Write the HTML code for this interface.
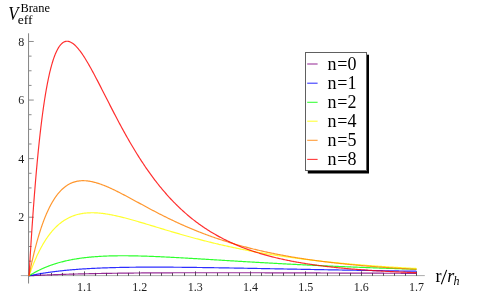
<!DOCTYPE html>
<html><head><meta charset="utf-8"><style>
html,body{margin:0;padding:0;background:#fff;}
body{width:482px;height:301px;overflow:hidden;}
svg{display:block;font-family:"Liberation Serif",serif;will-change:transform;}
</style></head><body>
<svg width="482" height="301" viewBox="0 0 482 301">
<rect width="482" height="301" fill="#fff"/>
<g stroke-width="1" fill="none">
<line x1="20.8" x2="424.8" y1="275.60" y2="275.60" stroke="#adadad"/>
<line x1="28.55" x2="28.55" y1="33.3" y2="283.5" stroke="#858585"/>
</g>
<g stroke="#555" stroke-width="1" fill="none">
<line x1="40.50" x2="40.50" y1="275.90" y2="272.90"/>
<line x1="51.50" x2="51.50" y1="275.90" y2="272.90"/>
<line x1="62.50" x2="62.50" y1="275.90" y2="272.90"/>
<line x1="73.50" x2="73.50" y1="275.90" y2="272.90"/>
<line x1="84.50" x2="84.50" y1="275.90" y2="271.40"/>
<line x1="95.50" x2="95.50" y1="275.90" y2="272.90"/>
<line x1="106.50" x2="106.50" y1="275.90" y2="272.90"/>
<line x1="117.50" x2="117.50" y1="275.90" y2="272.90"/>
<line x1="128.50" x2="128.50" y1="275.90" y2="272.90"/>
<line x1="139.50" x2="139.50" y1="275.90" y2="271.40"/>
<line x1="150.50" x2="150.50" y1="275.90" y2="272.90"/>
<line x1="161.50" x2="161.50" y1="275.90" y2="272.90"/>
<line x1="172.50" x2="172.50" y1="275.90" y2="272.90"/>
<line x1="184.50" x2="184.50" y1="275.90" y2="272.90"/>
<line x1="195.50" x2="195.50" y1="275.90" y2="271.40"/>
<line x1="206.50" x2="206.50" y1="275.90" y2="272.90"/>
<line x1="217.50" x2="217.50" y1="275.90" y2="272.90"/>
<line x1="228.50" x2="228.50" y1="275.90" y2="272.90"/>
<line x1="239.50" x2="239.50" y1="275.90" y2="272.90"/>
<line x1="250.50" x2="250.50" y1="275.90" y2="271.40"/>
<line x1="261.50" x2="261.50" y1="275.90" y2="272.90"/>
<line x1="272.50" x2="272.50" y1="275.90" y2="272.90"/>
<line x1="283.50" x2="283.50" y1="275.90" y2="272.90"/>
<line x1="294.50" x2="294.50" y1="275.90" y2="272.90"/>
<line x1="305.50" x2="305.50" y1="275.90" y2="271.40"/>
<line x1="316.50" x2="316.50" y1="275.90" y2="272.90"/>
<line x1="327.50" x2="327.50" y1="275.90" y2="272.90"/>
<line x1="339.50" x2="339.50" y1="275.90" y2="272.90"/>
<line x1="350.50" x2="350.50" y1="275.90" y2="272.90"/>
<line x1="361.50" x2="361.50" y1="275.90" y2="271.40"/>
<line x1="372.50" x2="372.50" y1="275.90" y2="272.90"/>
<line x1="383.50" x2="383.50" y1="275.90" y2="272.90"/>
<line x1="394.50" x2="394.50" y1="275.90" y2="272.90"/>
<line x1="405.50" x2="405.50" y1="275.90" y2="272.90"/>
<line x1="416.50" x2="416.50" y1="275.90" y2="271.40"/>
</g>
<g stroke="#8c8c8c" stroke-width="1" fill="none">
<line x1="28.55" x2="31.55" y1="261.16" y2="261.16"/>
<line x1="28.55" x2="31.55" y1="246.51" y2="246.51"/>
<line x1="28.55" x2="31.55" y1="231.87" y2="231.87"/>
<line x1="28.55" x2="33.75" y1="217.22" y2="217.22"/>
<line x1="28.55" x2="31.55" y1="202.58" y2="202.58"/>
<line x1="28.55" x2="31.55" y1="187.93" y2="187.93"/>
<line x1="28.55" x2="31.55" y1="173.29" y2="173.29"/>
<line x1="28.55" x2="33.75" y1="158.64" y2="158.64"/>
<line x1="28.55" x2="31.55" y1="144.00" y2="144.00"/>
<line x1="28.55" x2="31.55" y1="129.35" y2="129.35"/>
<line x1="28.55" x2="31.55" y1="114.71" y2="114.71"/>
<line x1="28.55" x2="33.75" y1="100.06" y2="100.06"/>
<line x1="28.55" x2="31.55" y1="85.42" y2="85.42"/>
<line x1="28.55" x2="31.55" y1="70.77" y2="70.77"/>
<line x1="28.55" x2="31.55" y1="56.13" y2="56.13"/>
<line x1="28.55" x2="33.75" y1="41.48" y2="41.48"/>
</g>
<g fill="none" stroke-width="1.18" stroke-opacity="0.82" stroke-linejoin="round">
<path d="M29.05,275.80 L29.28,275.79 L29.52,275.78 L29.75,275.76 L29.98,275.75 L30.21,275.74 L30.45,275.73 L30.68,275.71 L30.91,275.70 L31.14,275.69 L31.38,275.68 L31.61,275.67 L31.84,275.66 L32.07,275.64 L32.31,275.63 L32.54,275.62 L32.77,275.61 L33.00,275.60 L33.24,275.59 L33.47,275.57 L33.70,275.56 L33.93,275.55 L34.17,275.54 L34.40,275.53 L34.63,275.52 L34.87,275.51 L35.10,275.49 L35.33,275.48 L35.56,275.47 L35.80,275.46 L36.03,275.45 L36.26,275.44 L36.49,275.43 L36.73,275.42 L36.96,275.41 L37.19,275.39 L37.42,275.38 L37.66,275.37 L37.89,275.36 L38.12,275.35 L38.35,275.34 L38.59,275.33 L38.82,275.32 L39.05,275.31 L39.28,275.30 L39.52,275.29 L39.75,275.28 L39.98,275.27 L40.22,275.26 L40.45,275.24 L40.68,275.23 L40.91,275.22 L41.15,275.21 L41.38,275.20 L41.61,275.19 L41.84,275.18 L42.08,275.17 L42.31,275.16 L42.54,275.15 L42.77,275.14 L43.01,275.13 L43.24,275.12 L43.47,275.11 L43.70,275.10 L43.94,275.09 L44.17,275.08 L44.40,275.07 L44.63,275.06 L44.87,275.05 L45.10,275.04 L45.33,275.03 L45.56,275.02 L45.80,275.01 L46.03,275.00 L46.26,275.00 L46.50,274.99 L46.73,274.98 L46.96,274.97 L47.19,274.96 L47.43,274.95 L47.66,274.94 L47.89,274.93 L48.12,274.92 L48.36,274.91 L48.59,274.90 L48.82,274.89 L49.05,274.88 L49.29,274.87 L49.52,274.86 L49.75,274.86 L49.98,274.85 L50.22,274.84 L50.45,274.83 L50.68,274.82 L50.91,274.81 L51.15,274.80 L51.38,274.79 L51.61,274.78 L51.85,274.78 L52.08,274.77 L52.31,274.76 L52.54,274.75 L52.78,274.74 L53.01,274.73 L53.24,274.72 L53.47,274.71 L53.71,274.71 L53.94,274.70 L54.17,274.69 L54.40,274.68 L54.64,274.67 L54.87,274.66 L55.10,274.65 L55.33,274.65 L55.57,274.64 L55.80,274.63 L56.03,274.62 L56.26,274.61 L56.50,274.60 L56.73,274.60 L57.63,274.57 L58.53,274.53 L59.44,274.50 L60.34,274.47 L61.24,274.44 L62.14,274.41 L63.04,274.38 L63.94,274.36 L64.85,274.33 L65.75,274.30 L66.65,274.27 L67.55,274.25 L68.45,274.22 L69.36,274.19 L70.26,274.17 L71.16,274.14 L72.06,274.12 L72.96,274.09 L73.87,274.07 L74.77,274.04 L75.67,274.02 L76.57,273.99 L77.47,273.97 L78.37,273.95 L79.28,273.93 L80.18,273.90 L81.08,273.88 L81.98,273.86 L82.88,273.84 L83.79,273.82 L84.69,273.80 L85.59,273.78 L86.49,273.76 L87.39,273.74 L88.29,273.72 L89.20,273.70 L90.10,273.68 L91.00,273.66 L91.90,273.64 L92.80,273.62 L93.71,273.60 L94.61,273.59 L95.51,273.57 L96.41,273.55 L97.31,273.53 L98.22,273.52 L99.12,273.50 L100.02,273.49 L100.92,273.47 L101.82,273.45 L102.72,273.44 L103.63,273.42 L104.53,273.41 L105.43,273.39 L106.33,273.38 L107.23,273.36 L108.14,273.35 L109.04,273.34 L109.94,273.32 L110.84,273.31 L111.74,273.30 L112.64,273.28 L113.55,273.27 L114.45,273.26 L115.35,273.25 L116.25,273.23 L117.15,273.22 L118.06,273.21 L118.96,273.20 L119.86,273.19 L120.76,273.18 L121.66,273.16 L122.57,273.15 L123.47,273.14 L124.37,273.13 L125.27,273.12 L126.17,273.11 L127.07,273.10 L127.98,273.09 L128.88,273.08 L129.78,273.07 L130.68,273.06 L131.58,273.05 L132.49,273.05 L133.39,273.04 L134.29,273.03 L135.19,273.02 L136.09,273.01 L137.00,273.00 L137.90,273.00 L138.80,272.99 L139.70,272.98 L140.60,272.97 L141.50,272.96 L142.41,272.96 L143.31,272.95 L144.21,272.94 L145.11,272.94 L146.01,272.93 L146.92,272.92 L147.82,272.92 L148.72,272.91 L149.62,272.90 L150.52,272.90 L151.42,272.89 L152.33,272.89 L153.23,272.88 L154.13,272.87 L155.03,272.87 L155.93,272.86 L156.84,272.86 L157.74,272.85 L158.64,272.85 L159.54,272.84 L160.44,272.84 L161.35,272.83 L162.25,272.83 L163.15,272.82 L164.05,272.82 L164.95,272.82 L165.85,272.81 L166.76,272.81 L167.66,272.80 L168.56,272.80 L169.46,272.80 L170.36,272.79 L171.27,272.79 L172.17,272.79 L173.07,272.78 L173.97,272.78 L174.87,272.78 L175.77,272.77 L176.68,272.77 L177.58,272.77 L178.48,272.76 L179.38,272.76 L180.28,272.76 L181.19,272.76 L182.09,272.75 L182.99,272.75 L183.89,272.75 L184.79,272.75 L185.70,272.75 L186.60,272.74 L187.50,272.74 L188.40,272.74 L189.30,272.74 L190.20,272.74 L191.11,272.73 L192.01,272.73 L192.91,272.73 L193.81,272.73 L194.71,272.73 L195.62,272.73 L196.52,272.73 L197.42,272.72 L198.32,272.72 L199.22,272.72 L200.12,272.72 L201.03,272.72 L201.93,272.72 L202.83,272.72 L203.73,272.72 L204.63,272.72 L205.54,272.72 L206.44,272.72 L207.34,272.72 L208.24,272.72 L209.14,272.72 L210.05,272.72 L210.95,272.72 L211.85,272.72 L212.75,272.72 L213.65,272.72 L214.55,272.72 L215.46,272.72 L216.36,272.72 L217.26,272.72 L218.16,272.72 L219.06,272.72 L219.97,272.72 L220.87,272.72 L221.77,272.72 L222.67,272.72 L223.57,272.72 L224.47,272.72 L225.38,272.72 L226.28,272.72 L227.18,272.72 L228.08,272.72 L228.98,272.72 L229.89,272.72 L230.79,272.72 L231.69,272.73 L232.59,272.73 L233.49,272.73 L234.40,272.73 L235.30,272.73 L236.20,272.73 L237.10,272.73 L238.00,272.73 L238.90,272.73 L239.81,272.74 L240.71,272.74 L241.61,272.74 L242.51,272.74 L243.41,272.74 L244.32,272.74 L245.22,272.74 L246.12,272.75 L247.02,272.75 L247.92,272.75 L248.83,272.75 L249.73,272.75 L250.63,272.75 L251.53,272.76 L252.43,272.76 L253.33,272.76 L254.24,272.76 L255.14,272.76 L256.04,272.77 L256.94,272.77 L257.84,272.77 L258.75,272.77 L259.65,272.77 L260.55,272.78 L261.45,272.78 L262.35,272.78 L263.25,272.78 L264.16,272.78 L265.06,272.79 L265.96,272.79 L266.86,272.79 L267.76,272.79 L268.67,272.80 L269.57,272.80 L270.47,272.80 L271.37,272.80 L272.27,272.81 L273.18,272.81 L274.08,272.81 L274.98,272.81 L275.88,272.82 L276.78,272.82 L277.68,272.82 L278.59,272.82 L279.49,272.83 L280.39,272.83 L281.29,272.83 L282.19,272.83 L283.10,272.84 L284.00,272.84 L284.90,272.84 L285.80,272.85 L286.70,272.85 L287.60,272.85 L288.51,272.85 L289.41,272.86 L290.31,272.86 L291.21,272.86 L292.11,272.87 L293.02,272.87 L293.92,272.87 L294.82,272.87 L295.72,272.88 L296.62,272.88 L297.53,272.88 L298.43,272.89 L299.33,272.89 L300.23,272.89 L301.13,272.89 L302.03,272.90 L302.94,272.90 L303.84,272.90 L304.74,272.91 L305.64,272.91 L306.54,272.91 L307.45,272.92 L308.35,272.92 L309.25,272.92 L310.15,272.93 L311.05,272.93 L311.95,272.93 L312.86,272.94 L313.76,272.94 L314.66,272.94 L315.56,272.95 L316.46,272.95 L317.37,272.95 L318.27,272.96 L319.17,272.96 L320.07,272.96 L320.97,272.97 L321.88,272.97 L322.78,272.97 L323.68,272.98 L324.58,272.98 L325.48,272.98 L326.38,272.99 L327.29,272.99 L328.19,272.99 L329.09,273.00 L329.99,273.00 L330.89,273.00 L331.80,273.01 L332.70,273.01 L333.60,273.01 L334.50,273.02 L335.40,273.02 L336.30,273.02 L337.21,273.03 L338.11,273.03 L339.01,273.03 L339.91,273.04 L340.81,273.04 L341.72,273.04 L342.62,273.05 L343.52,273.05 L344.42,273.06 L345.32,273.06 L346.23,273.06 L347.13,273.07 L348.03,273.07 L348.93,273.07 L349.83,273.08 L350.73,273.08 L351.64,273.08 L352.54,273.09 L353.44,273.09 L354.34,273.09 L355.24,273.10 L356.15,273.10 L357.05,273.11 L357.95,273.11 L358.85,273.11 L359.75,273.12 L360.66,273.12 L361.56,273.12 L362.46,273.13 L363.36,273.13 L364.26,273.13 L365.16,273.14 L366.07,273.14 L366.97,273.15 L367.87,273.15 L368.77,273.15 L369.67,273.16 L370.58,273.16 L371.48,273.16 L372.38,273.17 L373.28,273.17 L374.18,273.17 L375.08,273.18 L375.99,273.18 L376.89,273.19 L377.79,273.19 L378.69,273.19 L379.59,273.20 L380.50,273.20 L381.40,273.20 L382.30,273.21 L383.20,273.21 L384.10,273.22 L385.01,273.22 L385.91,273.22 L386.81,273.23 L387.71,273.23 L388.61,273.23 L389.51,273.24 L390.42,273.24 L391.32,273.24 L392.22,273.25 L393.12,273.25 L394.02,273.26 L394.93,273.26 L395.83,273.26 L396.73,273.27 L397.63,273.27 L398.53,273.27 L399.43,273.28 L400.34,273.28 L401.24,273.29 L402.14,273.29 L403.04,273.29 L403.94,273.30 L404.85,273.30 L405.75,273.30 L406.65,273.31 L407.55,273.31 L408.45,273.32 L409.36,273.32 L410.26,273.32 L411.16,273.33 L412.06,273.33 L412.96,273.33 L413.86,273.34 L414.77,273.34 L415.67,273.34 L416.57,273.35" stroke="#800080"/>
<path d="M29.05,275.80 L29.28,275.75 L29.52,275.70 L29.75,275.65 L29.98,275.61 L30.21,275.56 L30.45,275.51 L30.68,275.46 L30.91,275.41 L31.14,275.37 L31.38,275.32 L31.61,275.27 L31.84,275.23 L32.07,275.18 L32.31,275.13 L32.54,275.09 L32.77,275.04 L33.00,275.00 L33.24,274.95 L33.47,274.91 L33.70,274.86 L33.93,274.82 L34.17,274.77 L34.40,274.73 L34.63,274.68 L34.87,274.64 L35.10,274.60 L35.33,274.55 L35.56,274.51 L35.80,274.47 L36.03,274.42 L36.26,274.38 L36.49,274.34 L36.73,274.30 L36.96,274.25 L37.19,274.21 L37.42,274.17 L37.66,274.13 L37.89,274.09 L38.12,274.05 L38.35,274.01 L38.59,273.97 L38.82,273.92 L39.05,273.88 L39.28,273.84 L39.52,273.80 L39.75,273.76 L39.98,273.73 L40.22,273.69 L40.45,273.65 L40.68,273.61 L40.91,273.57 L41.15,273.53 L41.38,273.49 L41.61,273.45 L41.84,273.42 L42.08,273.38 L42.31,273.34 L42.54,273.30 L42.77,273.26 L43.01,273.23 L43.24,273.19 L43.47,273.15 L43.70,273.12 L43.94,273.08 L44.17,273.04 L44.40,273.01 L44.63,272.97 L44.87,272.94 L45.10,272.90 L45.33,272.87 L45.56,272.83 L45.80,272.80 L46.03,272.76 L46.26,272.73 L46.50,272.69 L46.73,272.66 L46.96,272.62 L47.19,272.59 L47.43,272.55 L47.66,272.52 L47.89,272.49 L48.12,272.45 L48.36,272.42 L48.59,272.39 L48.82,272.35 L49.05,272.32 L49.29,272.29 L49.52,272.26 L49.75,272.22 L49.98,272.19 L50.22,272.16 L50.45,272.13 L50.68,272.10 L50.91,272.06 L51.15,272.03 L51.38,272.00 L51.61,271.97 L51.85,271.94 L52.08,271.91 L52.31,271.88 L52.54,271.85 L52.78,271.82 L53.01,271.79 L53.24,271.76 L53.47,271.73 L53.71,271.70 L53.94,271.67 L54.17,271.64 L54.40,271.61 L54.64,271.58 L54.87,271.55 L55.10,271.52 L55.33,271.49 L55.57,271.47 L55.80,271.44 L56.03,271.41 L56.26,271.38 L56.50,271.35 L56.73,271.33 L57.63,271.22 L58.53,271.11 L59.44,271.01 L60.34,270.91 L61.24,270.81 L62.14,270.72 L63.04,270.62 L63.94,270.53 L64.85,270.44 L65.75,270.35 L66.65,270.26 L67.55,270.18 L68.45,270.09 L69.36,270.01 L70.26,269.93 L71.16,269.85 L72.06,269.77 L72.96,269.70 L73.87,269.62 L74.77,269.55 L75.67,269.48 L76.57,269.41 L77.47,269.34 L78.37,269.28 L79.28,269.21 L80.18,269.15 L81.08,269.08 L81.98,269.02 L82.88,268.96 L83.79,268.91 L84.69,268.85 L85.59,268.79 L86.49,268.74 L87.39,268.68 L88.29,268.63 L89.20,268.58 L90.10,268.53 L91.00,268.48 L91.90,268.44 L92.80,268.39 L93.71,268.35 L94.61,268.30 L95.51,268.26 L96.41,268.22 L97.31,268.18 L98.22,268.14 L99.12,268.10 L100.02,268.06 L100.92,268.02 L101.82,267.99 L102.72,267.95 L103.63,267.92 L104.53,267.89 L105.43,267.85 L106.33,267.82 L107.23,267.79 L108.14,267.76 L109.04,267.73 L109.94,267.71 L110.84,267.68 L111.74,267.65 L112.64,267.63 L113.55,267.60 L114.45,267.58 L115.35,267.56 L116.25,267.53 L117.15,267.51 L118.06,267.49 L118.96,267.47 L119.86,267.45 L120.76,267.43 L121.66,267.42 L122.57,267.40 L123.47,267.38 L124.37,267.37 L125.27,267.35 L126.17,267.33 L127.07,267.32 L127.98,267.31 L128.88,267.29 L129.78,267.28 L130.68,267.27 L131.58,267.26 L132.49,267.25 L133.39,267.24 L134.29,267.23 L135.19,267.22 L136.09,267.21 L137.00,267.20 L137.90,267.19 L138.80,267.19 L139.70,267.18 L140.60,267.17 L141.50,267.17 L142.41,267.16 L143.31,267.16 L144.21,267.15 L145.11,267.15 L146.01,267.15 L146.92,267.14 L147.82,267.14 L148.72,267.14 L149.62,267.14 L150.52,267.14 L151.42,267.13 L152.33,267.13 L153.23,267.13 L154.13,267.13 L155.03,267.13 L155.93,267.13 L156.84,267.14 L157.74,267.14 L158.64,267.14 L159.54,267.14 L160.44,267.14 L161.35,267.15 L162.25,267.15 L163.15,267.15 L164.05,267.16 L164.95,267.16 L165.85,267.17 L166.76,267.17 L167.66,267.17 L168.56,267.18 L169.46,267.19 L170.36,267.19 L171.27,267.20 L172.17,267.20 L173.07,267.21 L173.97,267.22 L174.87,267.22 L175.77,267.23 L176.68,267.24 L177.58,267.25 L178.48,267.25 L179.38,267.26 L180.28,267.27 L181.19,267.28 L182.09,267.29 L182.99,267.30 L183.89,267.31 L184.79,267.32 L185.70,267.33 L186.60,267.34 L187.50,267.35 L188.40,267.36 L189.30,267.37 L190.20,267.38 L191.11,267.39 L192.01,267.40 L192.91,267.41 L193.81,267.42 L194.71,267.43 L195.62,267.44 L196.52,267.46 L197.42,267.47 L198.32,267.48 L199.22,267.49 L200.12,267.50 L201.03,267.52 L201.93,267.53 L202.83,267.54 L203.73,267.55 L204.63,267.57 L205.54,267.58 L206.44,267.59 L207.34,267.61 L208.24,267.62 L209.14,267.63 L210.05,267.65 L210.95,267.66 L211.85,267.67 L212.75,267.69 L213.65,267.70 L214.55,267.72 L215.46,267.73 L216.36,267.75 L217.26,267.76 L218.16,267.77 L219.06,267.79 L219.97,267.80 L220.87,267.82 L221.77,267.83 L222.67,267.85 L223.57,267.86 L224.47,267.88 L225.38,267.89 L226.28,267.91 L227.18,267.93 L228.08,267.94 L228.98,267.96 L229.89,267.97 L230.79,267.99 L231.69,268.00 L232.59,268.02 L233.49,268.03 L234.40,268.05 L235.30,268.07 L236.20,268.08 L237.10,268.10 L238.00,268.11 L238.90,268.13 L239.81,268.15 L240.71,268.16 L241.61,268.18 L242.51,268.20 L243.41,268.21 L244.32,268.23 L245.22,268.24 L246.12,268.26 L247.02,268.28 L247.92,268.29 L248.83,268.31 L249.73,268.33 L250.63,268.34 L251.53,268.36 L252.43,268.38 L253.33,268.39 L254.24,268.41 L255.14,268.43 L256.04,268.44 L256.94,268.46 L257.84,268.48 L258.75,268.49 L259.65,268.51 L260.55,268.53 L261.45,268.55 L262.35,268.56 L263.25,268.58 L264.16,268.60 L265.06,268.61 L265.96,268.63 L266.86,268.65 L267.76,268.66 L268.67,268.68 L269.57,268.70 L270.47,268.72 L271.37,268.73 L272.27,268.75 L273.18,268.77 L274.08,268.78 L274.98,268.80 L275.88,268.82 L276.78,268.83 L277.68,268.85 L278.59,268.87 L279.49,268.89 L280.39,268.90 L281.29,268.92 L282.19,268.94 L283.10,268.95 L284.00,268.97 L284.90,268.99 L285.80,269.00 L286.70,269.02 L287.60,269.04 L288.51,269.06 L289.41,269.07 L290.31,269.09 L291.21,269.11 L292.11,269.12 L293.02,269.14 L293.92,269.16 L294.82,269.17 L295.72,269.19 L296.62,269.21 L297.53,269.23 L298.43,269.24 L299.33,269.26 L300.23,269.28 L301.13,269.29 L302.03,269.31 L302.94,269.33 L303.84,269.34 L304.74,269.36 L305.64,269.38 L306.54,269.39 L307.45,269.41 L308.35,269.43 L309.25,269.44 L310.15,269.46 L311.05,269.48 L311.95,269.49 L312.86,269.51 L313.76,269.53 L314.66,269.54 L315.56,269.56 L316.46,269.58 L317.37,269.59 L318.27,269.61 L319.17,269.63 L320.07,269.64 L320.97,269.66 L321.88,269.67 L322.78,269.69 L323.68,269.71 L324.58,269.72 L325.48,269.74 L326.38,269.76 L327.29,269.77 L328.19,269.79 L329.09,269.80 L329.99,269.82 L330.89,269.84 L331.80,269.85 L332.70,269.87 L333.60,269.88 L334.50,269.90 L335.40,269.92 L336.30,269.93 L337.21,269.95 L338.11,269.96 L339.01,269.98 L339.91,270.00 L340.81,270.01 L341.72,270.03 L342.62,270.04 L343.52,270.06 L344.42,270.07 L345.32,270.09 L346.23,270.11 L347.13,270.12 L348.03,270.14 L348.93,270.15 L349.83,270.17 L350.73,270.18 L351.64,270.20 L352.54,270.21 L353.44,270.23 L354.34,270.24 L355.24,270.26 L356.15,270.28 L357.05,270.29 L357.95,270.31 L358.85,270.32 L359.75,270.34 L360.66,270.35 L361.56,270.37 L362.46,270.38 L363.36,270.40 L364.26,270.41 L365.16,270.43 L366.07,270.44 L366.97,270.46 L367.87,270.47 L368.77,270.49 L369.67,270.50 L370.58,270.51 L371.48,270.53 L372.38,270.54 L373.28,270.56 L374.18,270.57 L375.08,270.59 L375.99,270.60 L376.89,270.62 L377.79,270.63 L378.69,270.65 L379.59,270.66 L380.50,270.67 L381.40,270.69 L382.30,270.70 L383.20,270.72 L384.10,270.73 L385.01,270.75 L385.91,270.76 L386.81,270.77 L387.71,270.79 L388.61,270.80 L389.51,270.82 L390.42,270.83 L391.32,270.84 L392.22,270.86 L393.12,270.87 L394.02,270.89 L394.93,270.90 L395.83,270.91 L396.73,270.93 L397.63,270.94 L398.53,270.95 L399.43,270.97 L400.34,270.98 L401.24,270.99 L402.14,271.01 L403.04,271.02 L403.94,271.04 L404.85,271.05 L405.75,271.06 L406.65,271.08 L407.55,271.09 L408.45,271.10 L409.36,271.11 L410.26,271.13 L411.16,271.14 L412.06,271.15 L412.96,271.17 L413.86,271.18 L414.77,271.19 L415.67,271.21 L416.57,271.22" stroke="#0000ff"/>
<path d="M29.05,275.80 L29.28,275.65 L29.52,275.51 L29.75,275.36 L29.98,275.22 L30.21,275.07 L30.45,274.93 L30.68,274.79 L30.91,274.65 L31.14,274.51 L31.38,274.37 L31.61,274.23 L31.84,274.09 L32.07,273.95 L32.31,273.82 L32.54,273.68 L32.77,273.55 L33.00,273.41 L33.24,273.28 L33.47,273.15 L33.70,273.02 L33.93,272.89 L34.17,272.76 L34.40,272.63 L34.63,272.50 L34.87,272.37 L35.10,272.25 L35.33,272.12 L35.56,272.00 L35.80,271.87 L36.03,271.75 L36.26,271.62 L36.49,271.50 L36.73,271.38 L36.96,271.26 L37.19,271.14 L37.42,271.02 L37.66,270.90 L37.89,270.78 L38.12,270.67 L38.35,270.55 L38.59,270.43 L38.82,270.32 L39.05,270.20 L39.28,270.09 L39.52,269.98 L39.75,269.87 L39.98,269.75 L40.22,269.64 L40.45,269.53 L40.68,269.42 L40.91,269.32 L41.15,269.21 L41.38,269.10 L41.61,268.99 L41.84,268.89 L42.08,268.78 L42.31,268.68 L42.54,268.57 L42.77,268.47 L43.01,268.36 L43.24,268.26 L43.47,268.16 L43.70,268.06 L43.94,267.96 L44.17,267.86 L44.40,267.76 L44.63,267.66 L44.87,267.56 L45.10,267.47 L45.33,267.37 L45.56,267.27 L45.80,267.18 L46.03,267.08 L46.26,266.99 L46.50,266.90 L46.73,266.80 L46.96,266.71 L47.19,266.62 L47.43,266.53 L47.66,266.44 L47.89,266.35 L48.12,266.26 L48.36,266.17 L48.59,266.08 L48.82,265.99 L49.05,265.90 L49.29,265.82 L49.52,265.73 L49.75,265.64 L49.98,265.56 L50.22,265.47 L50.45,265.39 L50.68,265.31 L50.91,265.22 L51.15,265.14 L51.38,265.06 L51.61,264.98 L51.85,264.90 L52.08,264.82 L52.31,264.74 L52.54,264.66 L52.78,264.58 L53.01,264.50 L53.24,264.42 L53.47,264.35 L53.71,264.27 L53.94,264.19 L54.17,264.12 L54.40,264.04 L54.64,263.97 L54.87,263.89 L55.10,263.82 L55.33,263.75 L55.57,263.67 L55.80,263.60 L56.03,263.53 L56.26,263.46 L56.50,263.39 L56.73,263.32 L57.63,263.05 L58.53,262.79 L59.44,262.53 L60.34,262.29 L61.24,262.04 L62.14,261.81 L63.04,261.58 L63.94,261.36 L64.85,261.14 L65.75,260.93 L66.65,260.73 L67.55,260.53 L68.45,260.34 L69.36,260.15 L70.26,259.97 L71.16,259.79 L72.06,259.62 L72.96,259.45 L73.87,259.29 L74.77,259.13 L75.67,258.98 L76.57,258.83 L77.47,258.69 L78.37,258.55 L79.28,258.42 L80.18,258.29 L81.08,258.16 L81.98,258.04 L82.88,257.92 L83.79,257.81 L84.69,257.70 L85.59,257.59 L86.49,257.49 L87.39,257.39 L88.29,257.30 L89.20,257.21 L90.10,257.12 L91.00,257.04 L91.90,256.96 L92.80,256.88 L93.71,256.80 L94.61,256.73 L95.51,256.66 L96.41,256.60 L97.31,256.54 L98.22,256.48 L99.12,256.42 L100.02,256.36 L100.92,256.31 L101.82,256.26 L102.72,256.22 L103.63,256.17 L104.53,256.13 L105.43,256.09 L106.33,256.06 L107.23,256.02 L108.14,255.99 L109.04,255.96 L109.94,255.93 L110.84,255.91 L111.74,255.89 L112.64,255.87 L113.55,255.85 L114.45,255.83 L115.35,255.81 L116.25,255.80 L117.15,255.79 L118.06,255.78 L118.96,255.77 L119.86,255.76 L120.76,255.76 L121.66,255.76 L122.57,255.75 L123.47,255.75 L124.37,255.76 L125.27,255.76 L126.17,255.76 L127.07,255.77 L127.98,255.78 L128.88,255.79 L129.78,255.80 L130.68,255.81 L131.58,255.82 L132.49,255.84 L133.39,255.85 L134.29,255.87 L135.19,255.88 L136.09,255.90 L137.00,255.92 L137.90,255.94 L138.80,255.97 L139.70,255.99 L140.60,256.01 L141.50,256.04 L142.41,256.06 L143.31,256.09 L144.21,256.12 L145.11,256.15 L146.01,256.18 L146.92,256.21 L147.82,256.24 L148.72,256.27 L149.62,256.30 L150.52,256.34 L151.42,256.37 L152.33,256.41 L153.23,256.44 L154.13,256.48 L155.03,256.52 L155.93,256.56 L156.84,256.59 L157.74,256.63 L158.64,256.67 L159.54,256.71 L160.44,256.75 L161.35,256.80 L162.25,256.84 L163.15,256.88 L164.05,256.92 L164.95,256.97 L165.85,257.01 L166.76,257.06 L167.66,257.10 L168.56,257.15 L169.46,257.19 L170.36,257.24 L171.27,257.29 L172.17,257.33 L173.07,257.38 L173.97,257.43 L174.87,257.48 L175.77,257.53 L176.68,257.57 L177.58,257.62 L178.48,257.67 L179.38,257.72 L180.28,257.77 L181.19,257.82 L182.09,257.87 L182.99,257.92 L183.89,257.98 L184.79,258.03 L185.70,258.08 L186.60,258.13 L187.50,258.18 L188.40,258.24 L189.30,258.29 L190.20,258.34 L191.11,258.39 L192.01,258.45 L192.91,258.50 L193.81,258.55 L194.71,258.61 L195.62,258.66 L196.52,258.71 L197.42,258.77 L198.32,258.82 L199.22,258.88 L200.12,258.93 L201.03,258.98 L201.93,259.04 L202.83,259.09 L203.73,259.15 L204.63,259.20 L205.54,259.26 L206.44,259.31 L207.34,259.37 L208.24,259.42 L209.14,259.48 L210.05,259.53 L210.95,259.59 L211.85,259.64 L212.75,259.70 L213.65,259.75 L214.55,259.81 L215.46,259.86 L216.36,259.92 L217.26,259.97 L218.16,260.03 L219.06,260.08 L219.97,260.14 L220.87,260.19 L221.77,260.25 L222.67,260.30 L223.57,260.36 L224.47,260.41 L225.38,260.47 L226.28,260.52 L227.18,260.58 L228.08,260.63 L228.98,260.69 L229.89,260.74 L230.79,260.80 L231.69,260.85 L232.59,260.91 L233.49,260.96 L234.40,261.02 L235.30,261.07 L236.20,261.12 L237.10,261.18 L238.00,261.23 L238.90,261.29 L239.81,261.34 L240.71,261.40 L241.61,261.45 L242.51,261.50 L243.41,261.56 L244.32,261.61 L245.22,261.66 L246.12,261.72 L247.02,261.77 L247.92,261.82 L248.83,261.88 L249.73,261.93 L250.63,261.98 L251.53,262.03 L252.43,262.09 L253.33,262.14 L254.24,262.19 L255.14,262.24 L256.04,262.30 L256.94,262.35 L257.84,262.40 L258.75,262.45 L259.65,262.50 L260.55,262.55 L261.45,262.61 L262.35,262.66 L263.25,262.71 L264.16,262.76 L265.06,262.81 L265.96,262.86 L266.86,262.91 L267.76,262.96 L268.67,263.01 L269.57,263.06 L270.47,263.11 L271.37,263.16 L272.27,263.21 L273.18,263.26 L274.08,263.31 L274.98,263.36 L275.88,263.41 L276.78,263.46 L277.68,263.51 L278.59,263.56 L279.49,263.61 L280.39,263.65 L281.29,263.70 L282.19,263.75 L283.10,263.80 L284.00,263.85 L284.90,263.89 L285.80,263.94 L286.70,263.99 L287.60,264.04 L288.51,264.08 L289.41,264.13 L290.31,264.18 L291.21,264.22 L292.11,264.27 L293.02,264.32 L293.92,264.36 L294.82,264.41 L295.72,264.45 L296.62,264.50 L297.53,264.54 L298.43,264.59 L299.33,264.64 L300.23,264.68 L301.13,264.73 L302.03,264.77 L302.94,264.81 L303.84,264.86 L304.74,264.90 L305.64,264.95 L306.54,264.99 L307.45,265.04 L308.35,265.08 L309.25,265.12 L310.15,265.17 L311.05,265.21 L311.95,265.25 L312.86,265.29 L313.76,265.34 L314.66,265.38 L315.56,265.42 L316.46,265.46 L317.37,265.51 L318.27,265.55 L319.17,265.59 L320.07,265.63 L320.97,265.67 L321.88,265.71 L322.78,265.76 L323.68,265.80 L324.58,265.84 L325.48,265.88 L326.38,265.92 L327.29,265.96 L328.19,266.00 L329.09,266.04 L329.99,266.08 L330.89,266.12 L331.80,266.16 L332.70,266.20 L333.60,266.24 L334.50,266.28 L335.40,266.32 L336.30,266.35 L337.21,266.39 L338.11,266.43 L339.01,266.47 L339.91,266.51 L340.81,266.55 L341.72,266.58 L342.62,266.62 L343.52,266.66 L344.42,266.70 L345.32,266.73 L346.23,266.77 L347.13,266.81 L348.03,266.84 L348.93,266.88 L349.83,266.92 L350.73,266.95 L351.64,266.99 L352.54,267.03 L353.44,267.06 L354.34,267.10 L355.24,267.13 L356.15,267.17 L357.05,267.20 L357.95,267.24 L358.85,267.28 L359.75,267.31 L360.66,267.34 L361.56,267.38 L362.46,267.41 L363.36,267.45 L364.26,267.48 L365.16,267.52 L366.07,267.55 L366.97,267.58 L367.87,267.62 L368.77,267.65 L369.67,267.68 L370.58,267.72 L371.48,267.75 L372.38,267.78 L373.28,267.82 L374.18,267.85 L375.08,267.88 L375.99,267.91 L376.89,267.95 L377.79,267.98 L378.69,268.01 L379.59,268.04 L380.50,268.07 L381.40,268.11 L382.30,268.14 L383.20,268.17 L384.10,268.20 L385.01,268.23 L385.91,268.26 L386.81,268.29 L387.71,268.32 L388.61,268.35 L389.51,268.38 L390.42,268.41 L391.32,268.44 L392.22,268.47 L393.12,268.50 L394.02,268.53 L394.93,268.56 L395.83,268.59 L396.73,268.62 L397.63,268.65 L398.53,268.68 L399.43,268.71 L400.34,268.74 L401.24,268.77 L402.14,268.80 L403.04,268.82 L403.94,268.85 L404.85,268.88 L405.75,268.91 L406.65,268.94 L407.55,268.96 L408.45,268.99 L409.36,269.02 L410.26,269.05 L411.16,269.08 L412.06,269.10 L412.96,269.13 L413.86,269.16 L414.77,269.18 L415.67,269.21 L416.57,269.24" stroke="#00ff00"/>
<path d="M29.05,275.80 L29.28,275.13 L29.52,274.46 L29.75,273.80 L29.98,273.14 L30.21,272.49 L30.45,271.85 L30.68,271.21 L30.91,270.57 L31.14,269.94 L31.38,269.32 L31.61,268.70 L31.84,268.09 L32.07,267.48 L32.31,266.88 L32.54,266.28 L32.77,265.69 L33.00,265.10 L33.24,264.52 L33.47,263.94 L33.70,263.37 L33.93,262.80 L34.17,262.24 L34.40,261.68 L34.63,261.12 L34.87,260.58 L35.10,260.03 L35.33,259.49 L35.56,258.96 L35.80,258.43 L36.03,257.91 L36.26,257.39 L36.49,256.87 L36.73,256.36 L36.96,255.85 L37.19,255.35 L37.42,254.85 L37.66,254.36 L37.89,253.87 L38.12,253.39 L38.35,252.91 L38.59,252.43 L38.82,251.96 L39.05,251.49 L39.28,251.03 L39.52,250.57 L39.75,250.11 L39.98,249.66 L40.22,249.22 L40.45,248.77 L40.68,248.34 L40.91,247.90 L41.15,247.47 L41.38,247.04 L41.61,246.62 L41.84,246.20 L42.08,245.79 L42.31,245.37 L42.54,244.97 L42.77,244.56 L43.01,244.16 L43.24,243.77 L43.47,243.37 L43.70,242.98 L43.94,242.60 L44.17,242.22 L44.40,241.84 L44.63,241.46 L44.87,241.09 L45.10,240.73 L45.33,240.36 L45.56,240.00 L45.80,239.64 L46.03,239.29 L46.26,238.94 L46.50,238.59 L46.73,238.25 L46.96,237.91 L47.19,237.57 L47.43,237.24 L47.66,236.90 L47.89,236.58 L48.12,236.25 L48.36,235.93 L48.59,235.61 L48.82,235.30 L49.05,234.99 L49.29,234.68 L49.52,234.37 L49.75,234.07 L49.98,233.77 L50.22,233.47 L50.45,233.18 L50.68,232.89 L50.91,232.60 L51.15,232.32 L51.38,232.04 L51.61,231.76 L51.85,231.48 L52.08,231.21 L52.31,230.94 L52.54,230.67 L52.78,230.40 L53.01,230.14 L53.24,229.88 L53.47,229.62 L53.71,229.37 L53.94,229.12 L54.17,228.87 L54.40,228.62 L54.64,228.38 L54.87,228.14 L55.10,227.90 L55.33,227.66 L55.57,227.43 L55.80,227.20 L56.03,226.97 L56.26,226.75 L56.50,226.52 L56.73,226.30 L57.63,225.47 L58.53,224.67 L59.44,223.90 L60.34,223.17 L61.24,222.47 L62.14,221.81 L63.04,221.17 L63.94,220.57 L64.85,219.99 L65.75,219.44 L66.65,218.92 L67.55,218.42 L68.45,217.95 L69.36,217.51 L70.26,217.09 L71.16,216.70 L72.06,216.32 L72.96,215.97 L73.87,215.64 L74.77,215.34 L75.67,215.05 L76.57,214.78 L77.47,214.53 L78.37,214.30 L79.28,214.09 L80.18,213.90 L81.08,213.72 L81.98,213.56 L82.88,213.42 L83.79,213.29 L84.69,213.18 L85.59,213.08 L86.49,212.99 L87.39,212.92 L88.29,212.87 L89.20,212.82 L90.10,212.79 L91.00,212.77 L91.90,212.76 L92.80,212.77 L93.71,212.78 L94.61,212.81 L95.51,212.84 L96.41,212.89 L97.31,212.94 L98.22,213.01 L99.12,213.08 L100.02,213.17 L100.92,213.26 L101.82,213.36 L102.72,213.46 L103.63,213.58 L104.53,213.70 L105.43,213.83 L106.33,213.96 L107.23,214.11 L108.14,214.26 L109.04,214.41 L109.94,214.57 L110.84,214.74 L111.74,214.91 L112.64,215.09 L113.55,215.27 L114.45,215.46 L115.35,215.65 L116.25,215.85 L117.15,216.05 L118.06,216.26 L118.96,216.47 L119.86,216.68 L120.76,216.90 L121.66,217.12 L122.57,217.34 L123.47,217.57 L124.37,217.80 L125.27,218.03 L126.17,218.27 L127.07,218.51 L127.98,218.75 L128.88,218.99 L129.78,219.24 L130.68,219.49 L131.58,219.74 L132.49,219.99 L133.39,220.25 L134.29,220.50 L135.19,220.76 L136.09,221.02 L137.00,221.28 L137.90,221.54 L138.80,221.81 L139.70,222.07 L140.60,222.34 L141.50,222.60 L142.41,222.87 L143.31,223.14 L144.21,223.41 L145.11,223.68 L146.01,223.95 L146.92,224.22 L147.82,224.50 L148.72,224.77 L149.62,225.04 L150.52,225.31 L151.42,225.59 L152.33,225.86 L153.23,226.13 L154.13,226.41 L155.03,226.68 L155.93,226.96 L156.84,227.23 L157.74,227.50 L158.64,227.78 L159.54,228.05 L160.44,228.32 L161.35,228.60 L162.25,228.87 L163.15,229.14 L164.05,229.41 L164.95,229.69 L165.85,229.96 L166.76,230.23 L167.66,230.50 L168.56,230.77 L169.46,231.03 L170.36,231.30 L171.27,231.57 L172.17,231.84 L173.07,232.10 L173.97,232.37 L174.87,232.63 L175.77,232.90 L176.68,233.16 L177.58,233.42 L178.48,233.68 L179.38,233.94 L180.28,234.20 L181.19,234.46 L182.09,234.72 L182.99,234.98 L183.89,235.23 L184.79,235.49 L185.70,235.74 L186.60,235.99 L187.50,236.25 L188.40,236.50 L189.30,236.75 L190.20,237.00 L191.11,237.24 L192.01,237.49 L192.91,237.73 L193.81,237.98 L194.71,238.22 L195.62,238.46 L196.52,238.71 L197.42,238.94 L198.32,239.18 L199.22,239.42 L200.12,239.66 L201.03,239.89 L201.93,240.13 L202.83,240.36 L203.73,240.59 L204.63,240.82 L205.54,241.05 L206.44,241.28 L207.34,241.51 L208.24,241.73 L209.14,241.96 L210.05,242.18 L210.95,242.40 L211.85,242.62 L212.75,242.84 L213.65,243.06 L214.55,243.28 L215.46,243.49 L216.36,243.71 L217.26,243.92 L218.16,244.13 L219.06,244.35 L219.97,244.55 L220.87,244.76 L221.77,244.97 L222.67,245.18 L223.57,245.38 L224.47,245.59 L225.38,245.79 L226.28,245.99 L227.18,246.19 L228.08,246.39 L228.98,246.59 L229.89,246.78 L230.79,246.98 L231.69,247.17 L232.59,247.37 L233.49,247.56 L234.40,247.75 L235.30,247.94 L236.20,248.13 L237.10,248.31 L238.00,248.50 L238.90,248.68 L239.81,248.87 L240.71,249.05 L241.61,249.23 L242.51,249.41 L243.41,249.59 L244.32,249.77 L245.22,249.94 L246.12,250.12 L247.02,250.29 L247.92,250.47 L248.83,250.64 L249.73,250.81 L250.63,250.98 L251.53,251.15 L252.43,251.31 L253.33,251.48 L254.24,251.65 L255.14,251.81 L256.04,251.97 L256.94,252.14 L257.84,252.30 L258.75,252.46 L259.65,252.62 L260.55,252.77 L261.45,252.93 L262.35,253.09 L263.25,253.24 L264.16,253.39 L265.06,253.55 L265.96,253.70 L266.86,253.85 L267.76,254.00 L268.67,254.15 L269.57,254.29 L270.47,254.44 L271.37,254.59 L272.27,254.73 L273.18,254.87 L274.08,255.02 L274.98,255.16 L275.88,255.30 L276.78,255.44 L277.68,255.58 L278.59,255.71 L279.49,255.85 L280.39,255.99 L281.29,256.12 L282.19,256.25 L283.10,256.39 L284.00,256.52 L284.90,256.65 L285.80,256.78 L286.70,256.91 L287.60,257.04 L288.51,257.17 L289.41,257.29 L290.31,257.42 L291.21,257.54 L292.11,257.67 L293.02,257.79 L293.92,257.91 L294.82,258.03 L295.72,258.15 L296.62,258.27 L297.53,258.39 L298.43,258.51 L299.33,258.63 L300.23,258.74 L301.13,258.86 L302.03,258.97 L302.94,259.09 L303.84,259.20 L304.74,259.31 L305.64,259.42 L306.54,259.53 L307.45,259.64 L308.35,259.75 L309.25,259.86 L310.15,259.97 L311.05,260.08 L311.95,260.18 L312.86,260.29 L313.76,260.39 L314.66,260.49 L315.56,260.60 L316.46,260.70 L317.37,260.80 L318.27,260.90 L319.17,261.00 L320.07,261.10 L320.97,261.20 L321.88,261.30 L322.78,261.40 L323.68,261.49 L324.58,261.59 L325.48,261.68 L326.38,261.78 L327.29,261.87 L328.19,261.97 L329.09,262.06 L329.99,262.15 L330.89,262.24 L331.80,262.33 L332.70,262.42 L333.60,262.51 L334.50,262.60 L335.40,262.69 L336.30,262.77 L337.21,262.86 L338.11,262.95 L339.01,263.03 L339.91,263.12 L340.81,263.20 L341.72,263.29 L342.62,263.37 L343.52,263.45 L344.42,263.53 L345.32,263.62 L346.23,263.70 L347.13,263.78 L348.03,263.86 L348.93,263.94 L349.83,264.01 L350.73,264.09 L351.64,264.17 L352.54,264.25 L353.44,264.32 L354.34,264.40 L355.24,264.47 L356.15,264.55 L357.05,264.62 L357.95,264.70 L358.85,264.77 L359.75,264.84 L360.66,264.91 L361.56,264.98 L362.46,265.06 L363.36,265.13 L364.26,265.20 L365.16,265.27 L366.07,265.33 L366.97,265.40 L367.87,265.47 L368.77,265.54 L369.67,265.61 L370.58,265.67 L371.48,265.74 L372.38,265.80 L373.28,265.87 L374.18,265.93 L375.08,266.00 L375.99,266.06 L376.89,266.13 L377.79,266.19 L378.69,266.25 L379.59,266.31 L380.50,266.37 L381.40,266.44 L382.30,266.50 L383.20,266.56 L384.10,266.62 L385.01,266.68 L385.91,266.73 L386.81,266.79 L387.71,266.85 L388.61,266.91 L389.51,266.97 L390.42,267.02 L391.32,267.08 L392.22,267.14 L393.12,267.19 L394.02,267.25 L394.93,267.30 L395.83,267.36 L396.73,267.41 L397.63,267.46 L398.53,267.52 L399.43,267.57 L400.34,267.62 L401.24,267.68 L402.14,267.73 L403.04,267.78 L403.94,267.83 L404.85,267.88 L405.75,267.93 L406.65,267.98 L407.55,268.03 L408.45,268.08 L409.36,268.13 L410.26,268.18 L411.16,268.23 L412.06,268.28 L412.96,268.32 L413.86,268.37 L414.77,268.42 L415.67,268.46 L416.57,268.51" stroke="#ffff00"/>
<path d="M29.05,275.80 L29.28,274.63 L29.52,273.46 L29.75,272.31 L29.98,271.17 L30.21,270.04 L30.45,268.92 L30.68,267.82 L30.91,266.72 L31.14,265.63 L31.38,264.56 L31.61,263.49 L31.84,262.44 L32.07,261.39 L32.31,260.36 L32.54,259.34 L32.77,258.32 L33.00,257.32 L33.24,256.32 L33.47,255.34 L33.70,254.37 L33.93,253.40 L34.17,252.45 L34.40,251.50 L34.63,250.57 L34.87,249.64 L35.10,248.72 L35.33,247.82 L35.56,246.92 L35.80,246.03 L36.03,245.15 L36.26,244.28 L36.49,243.41 L36.73,242.56 L36.96,241.71 L37.19,240.88 L37.42,240.05 L37.66,239.23 L37.89,238.42 L38.12,237.62 L38.35,236.82 L38.59,236.04 L38.82,235.26 L39.05,234.49 L39.28,233.73 L39.52,232.97 L39.75,232.23 L39.98,231.49 L40.22,230.76 L40.45,230.04 L40.68,229.32 L40.91,228.62 L41.15,227.92 L41.38,227.23 L41.61,226.54 L41.84,225.86 L42.08,225.19 L42.31,224.53 L42.54,223.88 L42.77,223.23 L43.01,222.59 L43.24,221.95 L43.47,221.33 L43.70,220.71 L43.94,220.09 L44.17,219.49 L44.40,218.89 L44.63,218.29 L44.87,217.71 L45.10,217.13 L45.33,216.55 L45.56,215.98 L45.80,215.42 L46.03,214.87 L46.26,214.32 L46.50,213.78 L46.73,213.24 L46.96,212.71 L47.19,212.19 L47.43,211.67 L47.66,211.16 L47.89,210.66 L48.12,210.16 L48.36,209.66 L48.59,209.18 L48.82,208.69 L49.05,208.22 L49.29,207.75 L49.52,207.28 L49.75,206.82 L49.98,206.37 L50.22,205.92 L50.45,205.48 L50.68,205.04 L50.91,204.61 L51.15,204.18 L51.38,203.76 L51.61,203.34 L51.85,202.93 L52.08,202.52 L52.31,202.12 L52.54,201.73 L52.78,201.34 L53.01,200.95 L53.24,200.57 L53.47,200.19 L53.71,199.82 L53.94,199.45 L54.17,199.09 L54.40,198.73 L54.64,198.38 L54.87,198.03 L55.10,197.69 L55.33,197.35 L55.57,197.02 L55.80,196.69 L56.03,196.36 L56.26,196.04 L56.50,195.72 L56.73,195.41 L57.63,194.24 L58.53,193.13 L59.44,192.08 L60.34,191.10 L61.24,190.16 L62.14,189.29 L63.04,188.46 L63.94,187.69 L64.85,186.96 L65.75,186.29 L66.65,185.66 L67.55,185.07 L68.45,184.53 L69.36,184.03 L70.26,183.57 L71.16,183.15 L72.06,182.77 L72.96,182.42 L73.87,182.11 L74.77,181.84 L75.67,181.59 L76.57,181.38 L77.47,181.20 L78.37,181.05 L79.28,180.92 L80.18,180.83 L81.08,180.76 L81.98,180.71 L82.88,180.69 L83.79,180.70 L84.69,180.72 L85.59,180.77 L86.49,180.84 L87.39,180.93 L88.29,181.05 L89.20,181.17 L90.10,181.32 L91.00,181.49 L91.90,181.67 L92.80,181.87 L93.71,182.08 L94.61,182.31 L95.51,182.55 L96.41,182.81 L97.31,183.08 L98.22,183.36 L99.12,183.66 L100.02,183.96 L100.92,184.28 L101.82,184.61 L102.72,184.94 L103.63,185.29 L104.53,185.65 L105.43,186.02 L106.33,186.39 L107.23,186.77 L108.14,187.16 L109.04,187.56 L109.94,187.96 L110.84,188.37 L111.74,188.79 L112.64,189.21 L113.55,189.64 L114.45,190.07 L115.35,190.51 L116.25,190.96 L117.15,191.40 L118.06,191.86 L118.96,192.31 L119.86,192.77 L120.76,193.23 L121.66,193.70 L122.57,194.17 L123.47,194.64 L124.37,195.11 L125.27,195.59 L126.17,196.07 L127.07,196.55 L127.98,197.03 L128.88,197.51 L129.78,198.00 L130.68,198.48 L131.58,198.97 L132.49,199.46 L133.39,199.94 L134.29,200.43 L135.19,200.92 L136.09,201.41 L137.00,201.90 L137.90,202.39 L138.80,202.88 L139.70,203.37 L140.60,203.86 L141.50,204.35 L142.41,204.84 L143.31,205.32 L144.21,205.81 L145.11,206.30 L146.01,206.78 L146.92,207.27 L147.82,207.75 L148.72,208.23 L149.62,208.71 L150.52,209.19 L151.42,209.67 L152.33,210.15 L153.23,210.62 L154.13,211.09 L155.03,211.57 L155.93,212.04 L156.84,212.50 L157.74,212.97 L158.64,213.43 L159.54,213.90 L160.44,214.36 L161.35,214.82 L162.25,215.27 L163.15,215.73 L164.05,216.18 L164.95,216.63 L165.85,217.08 L166.76,217.52 L167.66,217.97 L168.56,218.41 L169.46,218.85 L170.36,219.29 L171.27,219.72 L172.17,220.15 L173.07,220.58 L173.97,221.01 L174.87,221.43 L175.77,221.86 L176.68,222.28 L177.58,222.69 L178.48,223.11 L179.38,223.52 L180.28,223.93 L181.19,224.34 L182.09,224.74 L182.99,225.15 L183.89,225.55 L184.79,225.94 L185.70,226.34 L186.60,226.73 L187.50,227.12 L188.40,227.51 L189.30,227.89 L190.20,228.27 L191.11,228.65 L192.01,229.03 L192.91,229.40 L193.81,229.78 L194.71,230.14 L195.62,230.51 L196.52,230.88 L197.42,231.24 L198.32,231.60 L199.22,231.95 L200.12,232.31 L201.03,232.66 L201.93,233.01 L202.83,233.35 L203.73,233.70 L204.63,234.04 L205.54,234.37 L206.44,234.71 L207.34,235.04 L208.24,235.38 L209.14,235.70 L210.05,236.03 L210.95,236.35 L211.85,236.68 L212.75,236.99 L213.65,237.31 L214.55,237.62 L215.46,237.94 L216.36,238.24 L217.26,238.55 L218.16,238.86 L219.06,239.16 L219.97,239.46 L220.87,239.75 L221.77,240.05 L222.67,240.34 L223.57,240.63 L224.47,240.92 L225.38,241.21 L226.28,241.49 L227.18,241.77 L228.08,242.05 L228.98,242.33 L229.89,242.60 L230.79,242.87 L231.69,243.14 L232.59,243.41 L233.49,243.68 L234.40,243.94 L235.30,244.20 L236.20,244.46 L237.10,244.72 L238.00,244.97 L238.90,245.23 L239.81,245.48 L240.71,245.73 L241.61,245.97 L242.51,246.22 L243.41,246.46 L244.32,246.70 L245.22,246.94 L246.12,247.18 L247.02,247.41 L247.92,247.65 L248.83,247.88 L249.73,248.11 L250.63,248.33 L251.53,248.56 L252.43,248.78 L253.33,249.01 L254.24,249.22 L255.14,249.44 L256.04,249.66 L256.94,249.87 L257.84,250.09 L258.75,250.30 L259.65,250.51 L260.55,250.71 L261.45,250.92 L262.35,251.12 L263.25,251.32 L264.16,251.52 L265.06,251.72 L265.96,251.92 L266.86,252.11 L267.76,252.31 L268.67,252.50 L269.57,252.69 L270.47,252.88 L271.37,253.07 L272.27,253.25 L273.18,253.44 L274.08,253.62 L274.98,253.80 L275.88,253.98 L276.78,254.16 L277.68,254.33 L278.59,254.51 L279.49,254.68 L280.39,254.85 L281.29,255.02 L282.19,255.19 L283.10,255.36 L284.00,255.53 L284.90,255.69 L285.80,255.85 L286.70,256.02 L287.60,256.18 L288.51,256.33 L289.41,256.49 L290.31,256.65 L291.21,256.80 L292.11,256.96 L293.02,257.11 L293.92,257.26 L294.82,257.41 L295.72,257.56 L296.62,257.71 L297.53,257.85 L298.43,258.00 L299.33,258.14 L300.23,258.28 L301.13,258.42 L302.03,258.56 L302.94,258.70 L303.84,258.84 L304.74,258.98 L305.64,259.11 L306.54,259.25 L307.45,259.38 L308.35,259.51 L309.25,259.64 L310.15,259.77 L311.05,259.90 L311.95,260.03 L312.86,260.15 L313.76,260.28 L314.66,260.40 L315.56,260.52 L316.46,260.65 L317.37,260.77 L318.27,260.89 L319.17,261.01 L320.07,261.12 L320.97,261.24 L321.88,261.36 L322.78,261.47 L323.68,261.58 L324.58,261.70 L325.48,261.81 L326.38,261.92 L327.29,262.03 L328.19,262.14 L329.09,262.25 L329.99,262.35 L330.89,262.46 L331.80,262.57 L332.70,262.67 L333.60,262.77 L334.50,262.88 L335.40,262.98 L336.30,263.08 L337.21,263.18 L338.11,263.28 L339.01,263.38 L339.91,263.47 L340.81,263.57 L341.72,263.67 L342.62,263.76 L343.52,263.86 L344.42,263.95 L345.32,264.04 L346.23,264.13 L347.13,264.23 L348.03,264.32 L348.93,264.41 L349.83,264.49 L350.73,264.58 L351.64,264.67 L352.54,264.76 L353.44,264.84 L354.34,264.93 L355.24,265.01 L356.15,265.10 L357.05,265.18 L357.95,265.26 L358.85,265.34 L359.75,265.42 L360.66,265.50 L361.56,265.58 L362.46,265.66 L363.36,265.74 L364.26,265.82 L365.16,265.90 L366.07,265.97 L366.97,266.05 L367.87,266.12 L368.77,266.20 L369.67,266.27 L370.58,266.34 L371.48,266.42 L372.38,266.49 L373.28,266.56 L374.18,266.63 L375.08,266.70 L375.99,266.77 L376.89,266.84 L377.79,266.91 L378.69,266.97 L379.59,267.04 L380.50,267.11 L381.40,267.17 L382.30,267.24 L383.20,267.31 L384.10,267.37 L385.01,267.43 L385.91,267.50 L386.81,267.56 L387.71,267.62 L388.61,267.68 L389.51,267.75 L390.42,267.81 L391.32,267.87 L392.22,267.93 L393.12,267.99 L394.02,268.05 L394.93,268.10 L395.83,268.16 L396.73,268.22 L397.63,268.28 L398.53,268.33 L399.43,268.39 L400.34,268.44 L401.24,268.50 L402.14,268.55 L403.04,268.61 L403.94,268.66 L404.85,268.71 L405.75,268.77 L406.65,268.82 L407.55,268.87 L408.45,268.92 L409.36,268.97 L410.26,269.03 L411.16,269.08 L412.06,269.13 L412.96,269.18 L413.86,269.22 L414.77,269.27 L415.67,269.32 L416.57,269.37" stroke="#ff8000"/>
<path d="M29.05,275.80 L29.28,271.73 L29.52,267.72 L29.75,263.77 L29.98,259.86 L30.21,256.01 L30.45,252.21 L30.68,248.47 L30.91,244.77 L31.14,241.12 L31.38,237.53 L31.61,233.98 L31.84,230.48 L32.07,227.03 L32.31,223.63 L32.54,220.28 L32.77,216.97 L33.00,213.70 L33.24,210.49 L33.47,207.32 L33.70,204.19 L33.93,201.11 L34.17,198.07 L34.40,195.07 L34.63,192.12 L34.87,189.21 L35.10,186.34 L35.33,183.51 L35.56,180.72 L35.80,177.98 L36.03,175.27 L36.26,172.60 L36.49,169.97 L36.73,167.38 L36.96,164.83 L37.19,162.32 L37.42,159.84 L37.66,157.40 L37.89,155.00 L38.12,152.63 L38.35,150.30 L38.59,148.00 L38.82,145.74 L39.05,143.52 L39.28,141.33 L39.52,139.17 L39.75,137.04 L39.98,134.95 L40.22,132.89 L40.45,130.86 L40.68,128.87 L40.91,126.90 L41.15,124.97 L41.38,123.07 L41.61,121.20 L41.84,119.36 L42.08,117.54 L42.31,115.76 L42.54,114.01 L42.77,112.29 L43.01,110.59 L43.24,108.92 L43.47,107.28 L43.70,105.67 L43.94,104.09 L44.17,102.53 L44.40,101.00 L44.63,99.49 L44.87,98.01 L45.10,96.56 L45.33,95.13 L45.56,93.73 L45.80,92.35 L46.03,91.00 L46.26,89.67 L46.50,88.36 L46.73,87.08 L46.96,85.82 L47.19,84.59 L47.43,83.38 L47.66,82.19 L47.89,81.02 L48.12,79.88 L48.36,78.75 L48.59,77.65 L48.82,76.57 L49.05,75.51 L49.29,74.47 L49.52,73.46 L49.75,72.46 L49.98,71.48 L50.22,70.52 L50.45,69.59 L50.68,68.67 L50.91,67.77 L51.15,66.89 L51.38,66.03 L51.61,65.19 L51.85,64.36 L52.08,63.56 L52.31,62.77 L52.54,62.00 L52.78,61.24 L53.01,60.51 L53.24,59.79 L53.47,59.09 L53.71,58.40 L53.94,57.73 L54.17,57.08 L54.40,56.44 L54.64,55.82 L54.87,55.22 L55.10,54.63 L55.33,54.05 L55.57,53.49 L55.80,52.95 L56.03,52.42 L56.26,51.91 L56.50,51.41 L56.73,50.92 L57.63,49.17 L58.53,47.61 L59.44,46.25 L60.34,45.08 L61.24,44.07 L62.14,43.24 L63.04,42.56 L63.94,42.03 L64.85,41.65 L65.75,41.40 L66.65,41.28 L67.55,41.28 L68.45,41.40 L69.36,41.63 L70.26,41.97 L71.16,42.41 L72.06,42.94 L72.96,43.55 L73.87,44.26 L74.77,45.04 L75.67,45.90 L76.57,46.83 L77.47,47.83 L78.37,48.89 L79.28,50.01 L80.18,51.18 L81.08,52.41 L81.98,53.69 L82.88,55.01 L83.79,56.38 L84.69,57.78 L85.59,59.23 L86.49,60.71 L87.39,62.22 L88.29,63.76 L89.20,65.33 L90.10,66.93 L91.00,68.55 L91.90,70.19 L92.80,71.85 L93.71,73.52 L94.61,75.22 L95.51,76.93 L96.41,78.65 L97.31,80.38 L98.22,82.12 L99.12,83.87 L100.02,85.63 L100.92,87.39 L101.82,89.16 L102.72,90.93 L103.63,92.70 L104.53,94.48 L105.43,96.25 L106.33,98.03 L107.23,99.80 L108.14,101.58 L109.04,103.35 L109.94,105.11 L110.84,106.87 L111.74,108.63 L112.64,110.38 L113.55,112.12 L114.45,113.86 L115.35,115.59 L116.25,117.31 L117.15,119.03 L118.06,120.73 L118.96,122.43 L119.86,124.12 L120.76,125.79 L121.66,127.46 L122.57,129.12 L123.47,130.76 L124.37,132.39 L125.27,134.02 L126.17,135.63 L127.07,137.22 L127.98,138.81 L128.88,140.39 L129.78,141.95 L130.68,143.50 L131.58,145.03 L132.49,146.55 L133.39,148.06 L134.29,149.56 L135.19,151.05 L136.09,152.52 L137.00,153.97 L137.90,155.42 L138.80,156.85 L139.70,158.26 L140.60,159.67 L141.50,161.06 L142.41,162.43 L143.31,163.79 L144.21,165.14 L145.11,166.48 L146.01,167.80 L146.92,169.11 L147.82,170.40 L148.72,171.68 L149.62,172.95 L150.52,174.20 L151.42,175.44 L152.33,176.67 L153.23,177.88 L154.13,179.08 L155.03,180.27 L155.93,181.44 L156.84,182.60 L157.74,183.75 L158.64,184.89 L159.54,186.01 L160.44,187.12 L161.35,188.21 L162.25,189.30 L163.15,190.37 L164.05,191.43 L164.95,192.48 L165.85,193.51 L166.76,194.53 L167.66,195.55 L168.56,196.54 L169.46,197.53 L170.36,198.51 L171.27,199.47 L172.17,200.42 L173.07,201.36 L173.97,202.29 L174.87,203.21 L175.77,204.12 L176.68,205.01 L177.58,205.90 L178.48,206.77 L179.38,207.64 L180.28,208.49 L181.19,209.33 L182.09,210.16 L182.99,210.99 L183.89,211.80 L184.79,212.60 L185.70,213.39 L186.60,214.17 L187.50,214.95 L188.40,215.71 L189.30,216.46 L190.20,217.21 L191.11,217.94 L192.01,218.67 L192.91,219.38 L193.81,220.09 L194.71,220.79 L195.62,221.48 L196.52,222.16 L197.42,222.83 L198.32,223.49 L199.22,224.15 L200.12,224.79 L201.03,225.43 L201.93,226.06 L202.83,226.69 L203.73,227.30 L204.63,227.91 L205.54,228.51 L206.44,229.10 L207.34,229.68 L208.24,230.26 L209.14,230.83 L210.05,231.39 L210.95,231.94 L211.85,232.49 L212.75,233.03 L213.65,233.56 L214.55,234.09 L215.46,234.61 L216.36,235.12 L217.26,235.63 L218.16,236.13 L219.06,236.62 L219.97,237.11 L220.87,237.59 L221.77,238.07 L222.67,238.53 L223.57,239.00 L224.47,239.45 L225.38,239.90 L226.28,240.35 L227.18,240.79 L228.08,241.22 L228.98,241.65 L229.89,242.07 L230.79,242.49 L231.69,242.90 L232.59,243.31 L233.49,243.71 L234.40,244.10 L235.30,244.49 L236.20,244.88 L237.10,245.26 L238.00,245.64 L238.90,246.01 L239.81,246.37 L240.71,246.74 L241.61,247.09 L242.51,247.44 L243.41,247.79 L244.32,248.13 L245.22,248.47 L246.12,248.81 L247.02,249.14 L247.92,249.46 L248.83,249.79 L249.73,250.10 L250.63,250.42 L251.53,250.73 L252.43,251.03 L253.33,251.33 L254.24,251.63 L255.14,251.92 L256.04,252.21 L256.94,252.50 L257.84,252.78 L258.75,253.06 L259.65,253.34 L260.55,253.61 L261.45,253.88 L262.35,254.14 L263.25,254.40 L264.16,254.66 L265.06,254.92 L265.96,255.17 L266.86,255.42 L267.76,255.66 L268.67,255.90 L269.57,256.14 L270.47,256.38 L271.37,256.61 L272.27,256.84 L273.18,257.07 L274.08,257.29 L274.98,257.51 L275.88,257.73 L276.78,257.95 L277.68,258.16 L278.59,258.37 L279.49,258.58 L280.39,258.78 L281.29,258.99 L282.19,259.19 L283.10,259.38 L284.00,259.58 L284.90,259.77 L285.80,259.96 L286.70,260.15 L287.60,260.33 L288.51,260.51 L289.41,260.70 L290.31,260.87 L291.21,261.05 L292.11,261.22 L293.02,261.39 L293.92,261.56 L294.82,261.73 L295.72,261.90 L296.62,262.06 L297.53,262.22 L298.43,262.38 L299.33,262.54 L300.23,262.69 L301.13,262.84 L302.03,262.99 L302.94,263.14 L303.84,263.29 L304.74,263.44 L305.64,263.58 L306.54,263.72 L307.45,263.86 L308.35,264.00 L309.25,264.14 L310.15,264.27 L311.05,264.41 L311.95,264.54 L312.86,264.67 L313.76,264.80 L314.66,264.92 L315.56,265.05 L316.46,265.17 L317.37,265.29 L318.27,265.41 L319.17,265.53 L320.07,265.65 L320.97,265.77 L321.88,265.88 L322.78,266.00 L323.68,266.11 L324.58,266.22 L325.48,266.33 L326.38,266.44 L327.29,266.54 L328.19,266.65 L329.09,266.75 L329.99,266.85 L330.89,266.96 L331.80,267.06 L332.70,267.16 L333.60,267.25 L334.50,267.35 L335.40,267.45 L336.30,267.54 L337.21,267.63 L338.11,267.72 L339.01,267.82 L339.91,267.91 L340.81,267.99 L341.72,268.08 L342.62,268.17 L343.52,268.25 L344.42,268.34 L345.32,268.42 L346.23,268.50 L347.13,268.59 L348.03,268.67 L348.93,268.75 L349.83,268.82 L350.73,268.90 L351.64,268.98 L352.54,269.05 L353.44,269.13 L354.34,269.20 L355.24,269.28 L356.15,269.35 L357.05,269.42 L357.95,269.49 L358.85,269.56 L359.75,269.63 L360.66,269.70 L361.56,269.76 L362.46,269.83 L363.36,269.90 L364.26,269.96 L365.16,270.02 L366.07,270.09 L366.97,270.15 L367.87,270.21 L368.77,270.27 L369.67,270.33 L370.58,270.39 L371.48,270.45 L372.38,270.51 L373.28,270.57 L374.18,270.62 L375.08,270.68 L375.99,270.74 L376.89,270.79 L377.79,270.85 L378.69,270.90 L379.59,270.95 L380.50,271.00 L381.40,271.06 L382.30,271.11 L383.20,271.16 L384.10,271.21 L385.01,271.26 L385.91,271.31 L386.81,271.35 L387.71,271.40 L388.61,271.45 L389.51,271.50 L390.42,271.54 L391.32,271.59 L392.22,271.63 L393.12,271.68 L394.02,271.72 L394.93,271.76 L395.83,271.81 L396.73,271.85 L397.63,271.89 L398.53,271.93 L399.43,271.97 L400.34,272.01 L401.24,272.05 L402.14,272.09 L403.04,272.13 L403.94,272.17 L404.85,272.21 L405.75,272.25 L406.65,272.28 L407.55,272.32 L408.45,272.36 L409.36,272.39 L410.26,272.43 L411.16,272.47 L412.06,272.50 L412.96,272.53 L413.86,272.57 L414.77,272.60 L415.67,272.64 L416.57,272.67" stroke="#ff0000"/>
</g>
<g font-size="12" fill="#1c1c1c">
<text x="84.41" y="290.8" text-anchor="middle">1.1</text>
<text x="139.77" y="290.8" text-anchor="middle">1.2</text>
<text x="195.13" y="290.8" text-anchor="middle">1.3</text>
<text x="250.49" y="290.8" text-anchor="middle">1.4</text>
<text x="305.85" y="290.8" text-anchor="middle">1.5</text>
<text x="361.21" y="290.8" text-anchor="middle">1.6</text>
<text x="416.57" y="290.8" text-anchor="middle">1.7</text>
<text x="24.2" y="221.42" text-anchor="end">2</text>
<text x="24.2" y="162.84" text-anchor="end">4</text>
<text x="24.2" y="104.26" text-anchor="end">6</text>
<text x="24.2" y="45.68" text-anchor="end">8</text>
</g>
<text transform="translate(8.3,19.7) scale(0.93,1)" font-size="18" font-style="italic">V</text>
<text transform="translate(20.4,11.5) scale(1.035,1)" font-size="12">Brane</text>
<text transform="translate(17.7,23.5) scale(1.14,1)" font-size="12">eff</text>
<text x="435.4" y="281.7" font-size="18">r</text>
<line x1="441.3" y1="284.3" x2="446.7" y2="269.9" stroke="#000" stroke-width="1.05"/>
<text x="447.3" y="281.7" font-size="18" font-style="italic">r</text>
<text x="453.4" y="285.2" font-size="12" font-style="italic">h</text>
<rect x="307.8" y="54.7" width="61.2" height="118.8" fill="#000"/>
<rect x="305.5" y="52.5" width="61" height="118" fill="#fff" stroke="#606060" stroke-width="1"/>
<line x1="307.2" x2="317.6" y1="64.00" y2="64.00" stroke="#800080" stroke-width="1.1" stroke-opacity="0.78"/>
<text x="327.4" y="70.00" font-size="18">n<tspan dx="0.9">=</tspan>0</text>
<line x1="307.2" x2="317.6" y1="83.20" y2="83.20" stroke="#0000ff" stroke-width="1.1" stroke-opacity="0.78"/>
<text x="327.4" y="89.20" font-size="18">n<tspan dx="0.9">=</tspan>1</text>
<line x1="307.2" x2="317.6" y1="102.30" y2="102.30" stroke="#00ff00" stroke-width="1.1" stroke-opacity="0.78"/>
<text x="327.4" y="108.30" font-size="18">n<tspan dx="0.9">=</tspan>2</text>
<line x1="307.2" x2="317.6" y1="121.20" y2="121.20" stroke="#ffff00" stroke-width="1.1" stroke-opacity="0.78"/>
<text x="327.4" y="127.20" font-size="18">n<tspan dx="0.9">=</tspan>4</text>
<line x1="307.2" x2="317.6" y1="140.30" y2="140.30" stroke="#ff8000" stroke-width="1.1" stroke-opacity="0.78"/>
<text x="327.4" y="146.30" font-size="18">n<tspan dx="0.9">=</tspan>5</text>
<line x1="307.2" x2="317.6" y1="159.40" y2="159.40" stroke="#ff0000" stroke-width="1.1" stroke-opacity="0.78"/>
<text x="327.4" y="165.40" font-size="18">n<tspan dx="0.9">=</tspan>8</text>
</svg>
</body></html>
